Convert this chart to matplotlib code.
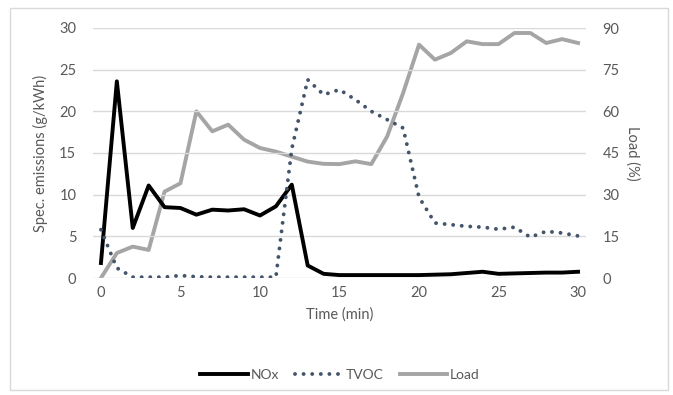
import numpy as np
import matplotlib.pyplot as plt
from matplotlib.patches import Rectangle

plt.rcParams['font.family'] = ['Lato', 'DejaVu Sans']

# data
minutes = list(range(31))
nox = [1.8, 23.6, 6.0, 11.1, 8.5, 8.4, 7.6, 8.2, 8.1, 8.25, 7.5, 8.6, 11.2,
       1.5, 0.5, 0.35, 0.35, 0.35, 0.35, 0.35, 0.35, 0.4, 0.45, 0.6, 0.75,
       0.5, 0.55, 0.6, 0.65, 0.65, 0.75]
tvoc = [5.8, 1.2, 0.1, 0.1, 0.1, 0.3, 0.15, 0.1, 0.1, 0.1, 0.1, 0.1, 15.5,
        23.8, 22.0, 22.6, 21.4, 20.0, 19.0, 18.0, 9.7, 6.6, 6.4, 6.2, 6.1,
        5.85, 6.1, 4.9, 5.6, 5.4, 5.05]
load = [0, 9.0, 11.3, 10.1, 31.1, 34.1, 60.0, 52.8, 55.2, 49.8, 46.8, 45.5,
        43.7, 41.9, 41.1, 41.0, 42.0, 41.0, 51.0, 66.6, 84.0, 78.6, 81.0,
        85.2, 84.2, 84.2, 88.2, 88.2, 84.6, 86.0, 84.6]

left_ticks = [0, 5, 10, 15, 20, 25, 30]
right_ticks = [0, 15, 30, 45, 60, 75, 90]
x_ticks = [0, 5, 10, 15, 20, 25, 30]

txt = '#595959'
fig = plt.figure(figsize=(6.73, 3.95), dpi=100)
fig.patches.append(Rectangle((10 / 673, 5 / 395), 658 / 673, 382 / 395,
                             transform=fig.transFigure, fill=False,
                             edgecolor='#D9D9D9', lw=1))
ax = fig.add_axes([93 / 673, 1 - 278 / 395, 493 / 673, 250 / 395])
ax2 = ax.twinx()

ax.set_xlim(-0.5, 30.5)
ax.set_ylim(0, 30)
ax2.set_ylim(0, 90)
ax.set_yticks(left_ticks)
ax2.set_yticks(right_ticks)
ax.set_xticks(x_ticks)
ax.grid(axis='y', color='#D9D9D9', lw=1)
ax.set_axisbelow(True)
for a in (ax, ax2):
    for s in a.spines.values():
        s.set_visible(False)
    a.tick_params(length=0, labelsize=10.5, labelcolor=txt)
ax.tick_params(axis='y', pad=12)
ax2.tick_params(axis='y', pad=12)
ax.tick_params(axis='x', pad=6)

l1, = ax.plot(minutes, nox, color='black', lw=2.8, label='NOx', zorder=3)
l2, = ax.plot(minutes, tvoc, color='#44546A', lw=2.8, ls=(0, (0.01, 2.2)),
              dash_capstyle='round', label='TVOC', zorder=3)
l3, = ax2.plot(minutes, load, color='#A5A5A5', lw=2.8, label='Load', zorder=2)
ax.set_zorder(ax2.get_zorder() + 1)
ax.patch.set_visible(False)

ax.set_xlabel('Time (min)', fontsize=10.5, color=txt, labelpad=5)
ax.set_ylabel('Spec. emissions (g/kWh)', fontsize=10.5, color=txt, labelpad=8)
ax2.set_ylabel('Load (%)', fontsize=10.5, color=txt, rotation=270, labelpad=14)

fig.legend(handles=[l1, l2, l3], loc='center', bbox_to_anchor=(340 / 673, 1 - 375 / 395),
           ncol=3, frameon=False, fontsize=10, labelcolor=txt, handlelength=3.4,
           handletextpad=0.2, columnspacing=1.2)

fig.savefig('out.png', dpi=100)
